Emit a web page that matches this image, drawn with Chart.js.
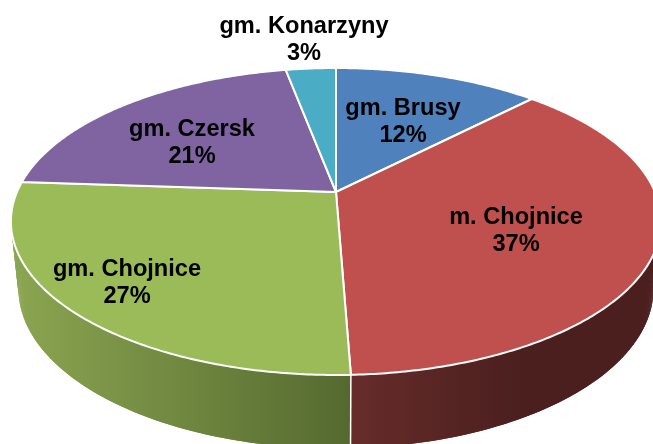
<!DOCTYPE html>
<html lang="pl">
<head>
<meta charset="utf-8">
<title>Udział gmin</title>
<script src="https://cdn.jsdelivr.net/npm/chart.js@4/dist/chart.umd.min.js"></script>
<style>
    html, body { margin: 0; padding: 0; background: #fff; overflow: hidden; }
    canvas { display: block; }
</style>
</head>
<body>
<canvas id="pieChart" width="653" height="444"></canvas>
<script>
const categories = ['gm. Brusy', 'm. Chojnice', 'gm. Chojnice', 'gm. Czersk', 'gm. Konarzyny'];
const shares = [12.3, 37.1, 26.7, 20.9, 3.0];

const topColors = ['#4f81bd', '#c0504d', '#9bbb59', '#8064a2', '#4bacc6'];
const wallLeft = ['#3a5f8c', '#652c2a', '#8ba651', '#5e4a78', '#37809a'];
const wallRight = ['#2d4a6e', '#4a1f1e', '#55692f', '#4a3a60', '#2a6578'];

// centre of each label, in the same order as categories
const labelX = [403, 516, 127, 192, 304];
const labelY = [121, 230, 282, 142, 39];

// tilted disc: the apex sits above the middle of the ellipse because of the perspective
const disc = { cx: 336, cy: 192, rx: 319, ry: 147.8, tilt: 0.1922, depth: 65.8, shrinkX: 0.977, growY: 1.042 };

function rimPoint(angle, lower) {
    const u = Math.cos(angle);
    const v = Math.sin(angle);
    const w = 1 - disc.tilt * v;
    let x = disc.rx * u / w;
    let y = disc.ry * v / w;
    if (lower) {
        x *= disc.shrinkX;
        y = y * disc.growY + disc.depth;
    }
    return { x: disc.cx + x, y: disc.cy + y };
}

function traceRim(ctx, from, to) {
    const steps = Math.max(2, Math.ceil(Math.abs(to - from) / 0.01));
    for (let i = 0; i <= steps; i++) {
        const p = rimPoint(from + (to - from) * i / steps, false);
        ctx.lineTo(p.x, p.y);
    }
}

// replaces the flat arcs: uses the angles the doughnut controller worked out
const tiltedPie = {
    id: 'tiltedPie',
    beforeDatasetsDraw(chart) {
        const ctx = chart.ctx;
        const arcs = chart.getDatasetMeta(0).data;

        ctx.save();
        ctx.lineJoin = 'round';

        // side walls, in thin strips so the silhouette runs straight from top rim to lower rim
        arcs.forEach((arc, i) => {
            const xs = [];
            for (let a = arc.startAngle; a <= arc.endAngle; a += 0.02) {
                if (Math.sin(a) > -0.2) xs.push(rimPoint(a, false).x);
            }
            if (!xs.length) xs.push(rimPoint(arc.startAngle, false).x);
            const grad = ctx.createLinearGradient(Math.min(...xs), 0, Math.max(...xs), 0);
            grad.addColorStop(0, wallLeft[i]);
            grad.addColorStop(i === 1 ? 0.55 : 1, wallRight[i]);
            if (i === 1) grad.addColorStop(1, wallRight[i]);
            ctx.fillStyle = grad;

            const step = 0.01;
            for (let a = arc.startAngle; a < arc.endAngle; a += step) {
                const b = Math.min(a + step * 2, arc.endAngle);
                const p1 = rimPoint(a, false);
                const p2 = rimPoint(b, false);
                const p3 = rimPoint(b, true);
                const p4 = rimPoint(a, true);
                ctx.beginPath();
                ctx.moveTo(p1.x, p1.y);
                ctx.lineTo(p2.x, p2.y);
                ctx.lineTo(p3.x, p3.y);
                ctx.lineTo(p4.x, p4.y);
                ctx.closePath();
                ctx.fill();
            }
        });

        // seams between the walls
        ctx.strokeStyle = '#fff';
        ctx.lineWidth = 1.5;
        arcs.forEach(arc => {
            const a = rimPoint(arc.endAngle, false);
            const b = rimPoint(arc.endAngle, true);
            ctx.beginPath();
            ctx.moveTo(a.x, a.y);
            ctx.lineTo(b.x, b.y);
            ctx.stroke();
        });

        // top faces
        ctx.lineWidth = 2;
        arcs.forEach((arc, i) => {
            ctx.beginPath();
            ctx.moveTo(disc.cx, disc.cy);
            traceRim(ctx, arc.startAngle, arc.endAngle);
            ctx.closePath();
            ctx.fillStyle = topColors[i];
            ctx.fill();
            ctx.stroke();
        });

        ctx.restore();
        return false;
    },
    // returning false above also skips afterDatasetsDraw, so the labels go here
    afterDraw(chart) {
        const ctx = chart.ctx;
        const total = shares.reduce((sum, v) => sum + v, 0);

        ctx.save();
        ctx.font = 'bold 23.6px "Liberation Sans", Arial, sans-serif';
        ctx.fillStyle = '#000';
        ctx.textAlign = 'center';
        ctx.textBaseline = 'middle';
        categories.forEach((name, i) => {
            ctx.fillText(name, labelX[i], labelY[i] - 13);
            ctx.fillText(Math.round(shares[i] / total * 100) + '%', labelX[i], labelY[i] + 14);
        });
        ctx.restore();
    }
};

new Chart(document.getElementById('pieChart'), {
    type: 'pie',
    data: {
        labels: categories,
        datasets: [{
            data: shares,
            backgroundColor: topColors,
            borderColor: '#fff'
        }]
    },
    options: {
        responsive: false,
        animation: false,
        plugins: {
            legend: { display: false },
            tooltip: { enabled: false }
        }
    },
    plugins: [tiltedPie]
});
</script>
</body>
</html>
